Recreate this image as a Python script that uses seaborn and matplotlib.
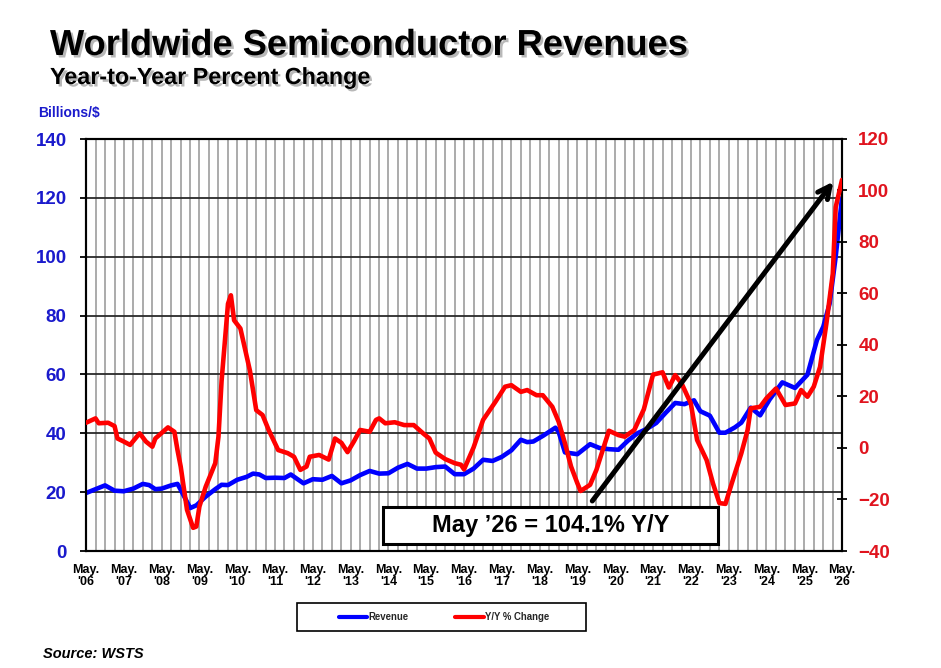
import matplotlib
matplotlib.use("Agg")
import matplotlib.pyplot as plt
import matplotlib.dates as mdates
import matplotlib.patheffects as pe
from matplotlib.patches import Rectangle
from matplotlib.lines import Line2D
import seaborn as sns
import pandas as pd

# ---------------- data ----------------
rev_dates = ["2006-05", "2006-08", "2006-11", "2007-02", "2007-05", "2007-08", "2007-11", "2008-01",
             "2008-03", "2008-05", "2008-08", "2008-10", "2008-11", "2009-02", "2009-04", "2009-07",
             "2009-10", "2009-12", "2010-02", "2010-05", "2010-08", "2010-10", "2010-12", "2011-02",
             "2011-05", "2011-08", "2011-10", "2011-12", "2012-02", "2012-05", "2012-08", "2012-11",
             "2013-02", "2013-05", "2013-08", "2013-11", "2014-02", "2014-05", "2014-08", "2014-11",
             "2015-02", "2015-05", "2015-08", "2015-11", "2016-02", "2016-05", "2016-08", "2016-11",
             "2017-02", "2017-05", "2017-08", "2017-11", "2018-01", "2018-03", "2018-06", "2018-10",
             "2018-11", "2019-01", "2019-05", "2019-09", "2019-12", "2020-03", "2020-06", "2020-09",
             "2020-12", "2021-03", "2021-06", "2021-09", "2021-12", "2022-03", "2022-06", "2022-08",
             "2022-11", "2023-02", "2023-04", "2023-07", "2023-09", "2023-12", "2024-03", "2024-06",
             "2024-10", "2025-02", "2025-06", "2025-09", "2025-11", "2026-01", "2026-03", "2026-05"]
rev_bn = [19.7, 21.0, 22.3, 20.5, 20.3, 21.2, 22.8, 22.4,
          21.0, 21.2, 22.3, 22.8, 20.8, 14.6, 15.5, 18.5,
          21.0, 22.5, 22.4, 24.2, 25.2, 26.3, 26.0, 24.8,
          24.9, 24.8, 26.0, 24.5, 23.0, 24.4, 24.2, 25.5,
          23.0, 24.0, 25.8, 27.2, 26.3, 26.4, 28.3, 29.6,
          28.0, 28.0, 28.5, 28.7, 26.1, 26.1, 28.0, 31.0,
          30.6, 32.0, 34.2, 37.8, 37.0, 37.2, 39.1, 41.9,
          40.5, 33.5, 32.9, 36.3, 35.0, 34.6, 34.4, 37.5,
          40.0, 41.5, 43.5, 47.0, 50.3, 49.9, 51.2, 47.5,
          46.0, 40.2, 40.2, 42.0, 43.6, 48.7, 46.1, 51.5,
          57.3, 55.4, 59.9, 71.7, 76.2, 84.0, 100.0, 120.0]

yoy_dates = ["2006-05", "2006-08", "2006-09", "2006-12", "2007-02", "2007-03", "2007-05", "2007-07",
             "2007-10", "2007-11", "2007-12", "2008-02", "2008-03", "2008-07", "2008-09", "2008-10",
             "2008-11", "2009-01", "2009-03", "2009-04", "2009-05", "2009-07", "2009-10", "2009-11",
             "2009-12", "2010-02", "2010-03", "2010-04", "2010-06", "2010-09", "2010-11", "2011-01",
             "2011-03", "2011-06", "2011-09", "2011-11", "2012-01", "2012-03", "2012-04", "2012-07",
             "2012-10", "2012-12", "2013-02", "2013-04", "2013-06", "2013-08", "2013-11", "2014-01",
             "2014-02", "2014-04", "2014-07", "2014-10", "2015-01", "2015-04", "2015-06", "2015-08",
             "2015-11", "2016-02", "2016-04", "2016-05", "2016-08", "2016-11", "2017-03", "2017-06",
             "2017-08", "2017-11", "2018-01", "2018-04", "2018-06", "2018-09", "2018-11", "2019-01",
             "2019-03", "2019-05", "2019-06", "2019-09", "2019-11", "2020-01", "2020-03", "2020-06",
             "2020-08", "2020-11", "2021-02", "2021-05", "2021-08", "2021-10", "2021-12", "2022-02",
             "2022-05", "2022-07", "2022-10", "2022-12", "2023-02", "2023-04", "2023-06", "2023-09",
             "2023-11", "2023-12", "2024-03", "2024-05", "2024-08", "2024-11", "2025-02", "2025-04",
             "2025-06", "2025-08", "2025-10", "2025-12", "2026-02", "2026-03", "2026-05"]
yoy_pct = [9.8, 11.5, 9.6, 9.8, 8.5, 3.7, 2.5, 1.2,
           5.7, 4.1, 2.5, 0.5, 3.7, 8.0, 6.3, -0.8,
           -7.2, -24.0, -31.0, -30.5, -22.7, -15.0, -5.9, 4.4,
           26.0, 56.0, 59.3, 49.6, 46.4, 30.0, 14.7, 12.8,
           7.0, -0.8, -2.0, -3.4, -8.5, -7.2, -3.4, -2.7,
           -4.5, 3.7, 2.0, -1.6, 2.5, 7.0, 6.3, 10.9,
           11.5, 9.6, 10.0, 8.9, 8.9, 5.7, 3.7, -1.8,
           -4.3, -5.9, -6.5, -8.3, 0.2, 10.9, 18.0, 23.8,
           24.4, 21.8, 22.5, 20.5, 20.5, 16.0, 10.2, 1.8,
           -7.2, -13.7, -16.7, -14.3, -8.5, -0.8, 6.7, 5.0,
           4.4, 7.0, 15.0, 28.5, 29.4, 23.5, 28.3, 25.1,
           17.3, 3.1, -4.7, -13.7, -21.4, -21.7, -13.7, -2.1,
           7.0, 15.4, 16.0, 19.3, 23.1, 16.7, 17.3, 22.5,
           19.9, 23.8, 31.5, 48.3, 67.7, 93.5, 104.1]

left_ticks = [0, 20, 40, 60, 80, 100, 120, 140]
right_ticks = [-40, -20, 0, 20, 40, 60, 80, 100, 120]
x_start, x_end = "2006-05", "2026-05"

title = "Worldwide Semiconductor Revenues"
subtitle = "Year-to-Year Percent Change"
callout = "May \u201926 = 104.1% Y/Y"
left_label = "Billions/$"
source = "Source: WSTS"
series_names = ["Revenue", "Y/Y % Change"]

# ---------------- styling ----------------
FONT = ["Liberation Sans", "DejaVu Sans"]
BLUE_LINE = "#0000FF"
RED_LINE = "#FF0000"
BLUE_TXT = "#1A1ACC"
RED_TXT = "#E0141E"

sns.set_theme(style="white")
plt.rcParams["font.family"] = FONT
plt.rcParams["font.weight"] = "bold"

rev_df = pd.DataFrame({"date": pd.to_datetime(rev_dates), "value": rev_bn})
yoy_df = pd.DataFrame({"date": pd.to_datetime(yoy_dates), "value": yoy_pct})

W, H = 941, 668
fig = plt.figure(figsize=(W / 100, H / 100), dpi=100)
fig.patch.set_facecolor("white")
L, R, T, B = 86, 842, 139, 551
ax = fig.add_axes([L / W, 1 - B / H, (R - L) / W, (B - T) / H])
ax.set_facecolor("white")

sns.lineplot(data=rev_df, x="date", y="value", ax=ax, color=BLUE_LINE, lw=3.3,
             legend=False, zorder=3)
ax2 = ax.twinx()
sns.lineplot(data=yoy_df, x="date", y="value", ax=ax2, color=RED_LINE, lw=3.3,
             legend=False, zorder=4)

ax.set_xlim(pd.Timestamp(x_start), pd.Timestamp(x_end))
ax.set_ylim(left_ticks[0], left_ticks[-1])
ax.set_yticks(left_ticks)
ax2.set_ylim(right_ticks[0], right_ticks[-1])
ax2.set_yticks(right_ticks)
ax.set_xlabel("")
ax.set_ylabel("")
ax2.set_ylabel("")

ax.xaxis.set_major_locator(mdates.MonthLocator(bymonth=5))
ax.xaxis.set_minor_locator(mdates.MonthLocator(bymonth=[2, 8, 11]))
ax.xaxis.set_major_formatter(mdates.DateFormatter("May.\n'%y"))

ax.grid(False)
ax2.grid(False)
ax.grid(axis="x", which="both", color="#ABABAB", lw=1.4, zorder=1)
ax.grid(axis="y", which="major", color="#2A2A2A", lw=1.3, zorder=2)
ax.set_axisbelow(True)

for a in (ax, ax2):
    for s in a.spines.values():
        s.set_color("black")
        s.set_linewidth(1.5)
        s.set_visible(True)

ax.tick_params(axis="x", which="both", length=0, pad=9, labelsize=9, labelcolor="black")
for lab in ax.get_xticklabels():
    lab.set_fontweight("bold")
    lab.set_linespacing(1.1)
ax.tick_params(axis="y", length=4, width=1.3, color="black", direction="out", pad=10,
               labelsize=13.5, labelcolor=BLUE_TXT, left=True)
ax2.tick_params(axis="y", length=7.5, width=1.3, color="black", direction="inout", pad=8,
                labelsize=13.5, labelcolor=RED_TXT, right=True)
for lab in ax.get_yticklabels() + ax2.get_yticklabels():
    lab.set_fontweight("bold")

# arrow and call-out box
ax2.annotate("", xy=(0.9885, 0.8964), xytext=(0.6697, 0.1214),
             xycoords="axes fraction", textcoords="axes fraction",
             arrowprops=dict(arrowstyle="->", lw=3.6, color="black", mutation_scale=22,
                             shrinkA=0, shrinkB=0), zorder=6)
box = Rectangle((0.3929, 0.017), 0.4431, 0.0898, transform=ax2.transAxes,
                facecolor="white", edgecolor="black", lw=2.2, zorder=7)
ax2.add_patch(box)
ax2.text(0.6143, 0.0620, callout, transform=ax2.transAxes, ha="center", va="center",
         fontsize=17, fontweight="bold", color="black", zorder=8)

# titles
shadow = [pe.withSimplePatchShadow(offset=(1.8, -1.8), shadow_rgbFace="#9A9A9A", alpha=0.7)]
fig.text(50 / W, 1 - 55 / H, title, fontsize=26.1, fontweight="bold", color="black",
         ha="left", va="baseline", path_effects=shadow)
fig.text(50 / W, 1 - 84 / H, subtitle, fontsize=16.8, fontweight="bold", color="black",
         ha="left", va="baseline", path_effects=shadow)
fig.text(38 / W, 1 - 113 / H, left_label, fontsize=10, fontweight="bold", color=BLUE_TXT,
         ha="left", va="center")
fig.text(43 / W, 1 - 654 / H, source, fontsize=10.5, fontweight="bold", style="italic",
         color="black", ha="left", va="center")

# legend
fig.patches.append(Rectangle((297 / W, 1 - 631 / H), (586 - 297) / W, (631 - 603) / H,
                             transform=fig.transFigure, facecolor="white",
                             edgecolor="black", lw=1.2))
handles = [Line2D([], [], color=BLUE_LINE, lw=3), Line2D([], [], color=RED_LINE, lw=3)]
leg = fig.legend(handles, series_names, loc="center", bbox_to_anchor=(444 / W, 1 - 617 / H),
                 ncol=2, frameon=False, handlelength=3.0, handletextpad=0.15,
                 columnspacing=4.8, prop={"weight": "bold", "size": 6.9})

fig.savefig("out.png", dpi=100, facecolor="white")
